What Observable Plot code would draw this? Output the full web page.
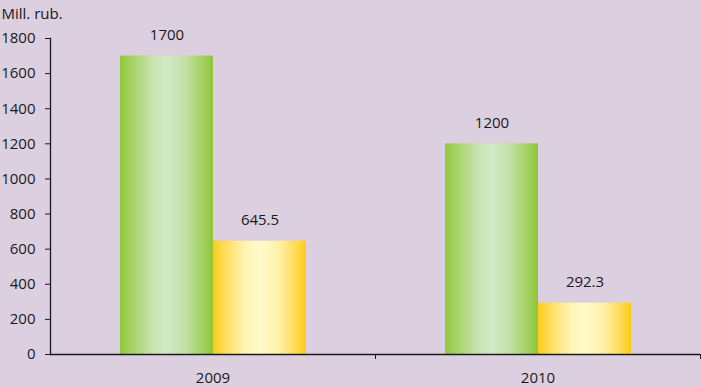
<!DOCTYPE html>
<html>
<head>
<meta charset="utf-8">
<script src="https://cdn.jsdelivr.net/npm/d3@7"></script>
<script src="https://cdn.jsdelivr.net/npm/@observablehq/plot@0.6"></script>
<style>
  html, body { margin: 0; padding: 0; background: #dccfdf; }
  #chart svg { display: block; }
</style>
</head>
<body>
<div id="chart"></div>
<script>
// ---- data ----
const years = ["2009", "2010"];
const seriesNames = ["series A", "series B"];
const seriesA = [1700, 1200];
const seriesB = [645.5, 292.3];
const yTicks = [0, 200, 400, 600, 800, 1000, 1200, 1400, 1600, 1800];
const unitLabel = "Mill. rub.";

const table = [];
years.forEach((y, i) => {
  table.push({year: y, series: seriesNames[0], value: seriesA[i]});
  table.push({year: y, series: seriesNames[1], value: seriesB[i]});
});

const W = 701, H = 387, ML = 50, MR = 1, MT = 38, MB = 33;
const facetW = (W - ML - MR) / years.length;

const chart = Plot.plot({
  width: W,
  height: H,
  marginLeft: ML,
  marginRight: MR,
  marginTop: MT,
  marginBottom: MB,
  style: {background: "#dccfdf", fontFamily: "'Open Sans', sans-serif", fontSize: "15px", color: "#1a1a1a"},
  fx: {domain: years, paddingInner: 0, paddingOuter: 0, label: null, axis: null},
  x: {domain: seriesNames, paddingInner: 0, paddingOuter: 0.73, axis: null},
  y: {domain: [0, 1800], label: null, axis: null},
  color: {type: "ordinal", domain: seriesNames, range: ["url(#gGreen)", "url(#gYellow)"]},
  marks: [
    Plot.barY(table, {fx: "year", x: "series", y: "value", fill: "series"}),
    Plot.text(table, {fx: "year", x: "series", y: "value", text: d => String(d.value), dy: -21, fill: "#1a1a1a", fontSize: 15}),
    Plot.ruleY([0], {stroke: "#1a1a1a", strokeWidth: 1.3}),
    Plot.frame({anchor: "left", facetAnchor: "left", stroke: "#1a1a1a", strokeWidth: 1.3}),
    Plot.axisY({ticks: yTicks, tickFormat: d => String(d), tickSize: 5, tickPadding: 10, label: null, stroke: "#1a1a1a", fill: "#1a1a1a", fontSize: 15}),
    Plot.axisFx({anchor: "bottom", tickSize: 0, tickPadding: 18, label: null, fill: "#1a1a1a", fontSize: 15}),
    Plot.axisFx({anchor: "bottom", tickSize: 5, tickFormat: () => "", label: null, dx: facetW / 2, stroke: "#1a1a1a"}),
    Plot.text([unitLabel], {frameAnchor: "top-left", facetAnchor: "left", textAnchor: "start", dx: -ML + 1, dy: -30, fill: "#1a1a1a", fontSize: 15})
  ]
});

// gradient definitions for the cylinder-like bar shading
const svg = d3.select(chart);
const defs = svg.insert("defs", ":first-child");
function grad(id, stops) {
  const g = defs.append("linearGradient").attr("id", id).attr("x1", 0).attr("x2", 1).attr("y1", 0).attr("y2", 0);
  stops.forEach(([o, c]) => g.append("stop").attr("offset", o).attr("stop-color", c));
}
grad("gGreen", [[0, "#92c83c"], [0.12, "#a6d262"], [0.35, "#c9e3b0"], [0.5, "#d3e9c6"], [0.7, "#c3e0a6"], [0.88, "#a5d262"], [1, "#8fc63a"]]);
grad("gYellow", [[0, "#ffcc14"], [0.12, "#ffdc5a"], [0.35, "#fff4b4"], [0.5, "#fffacb"], [0.7, "#fff1a8"], [0.88, "#ffdc5c"], [1, "#ffcc10"]]);

document.getElementById("chart").appendChild(chart);
</script>
</body>
</html>
